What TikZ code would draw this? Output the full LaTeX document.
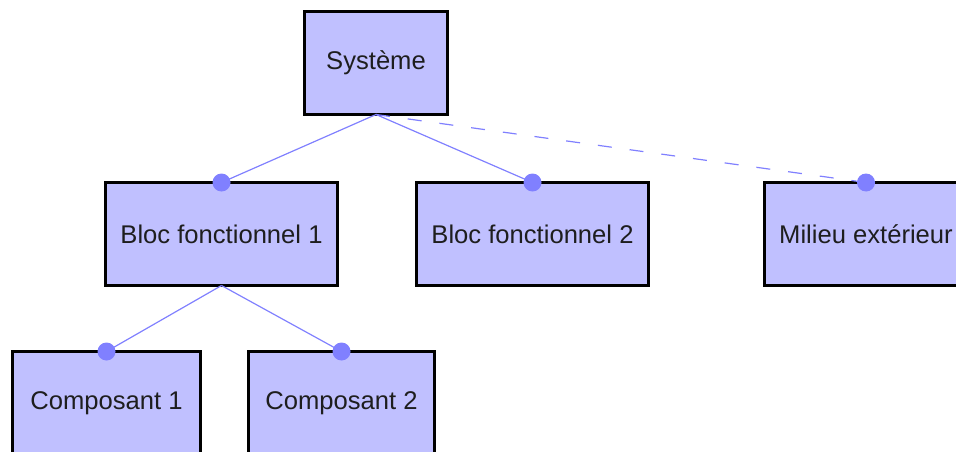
\documentclass[tikz,border=0pt]{standalone}
\usepackage{fontspec}
\setmainfont{Liberation Sans}
\definecolor{boxfill}{RGB}{192,192,255}
\definecolor{linkblue}{RGB}{128,128,255}
\definecolor{labeltext}{RGB}{30,30,30}
\begin{document}
\begin{tikzpicture}[x=1pt,y=-1pt,
  block/.style={draw=black, line width=3pt, fill=boxfill, rectangle,
    minimum height=103pt, inner sep=0pt, outer sep=0pt,
    text=labeltext, font=\fontsize{25.6}{30}\selectfont},
  link/.style={draw=linkblue, line width=1.2pt},
  weaklink/.style={link, dash pattern=on 14pt off 18pt},
  joint/.style={fill=linkblue, draw=none, circle, minimum size=18pt, inner sep=0pt}
]
\useasboundingbox (0,0) rectangle (956,452);
\clip (0,0) rectangle (956,452);

% blocks of the breakdown
\node[block, minimum width=143pt] (sys)  at (376,63)    {Système};
\node[block, minimum width=232pt] (bf1)  at (221.5,234) {Bloc fonctionnel 1};
\node[block, minimum width=232pt] (bf2)  at (532.5,234) {Bloc fonctionnel 2};
\node[block, minimum width=203pt] (env)  at (866,234)   {Milieu extérieur};
\node[block, minimum width=188pt] (cp1)  at (106.5,403) {Composant 1};
\node[block, minimum width=186pt] (cp2)  at (341.5,403) {Composant 2};

% links
\draw[link] (sys.south) -- (bf1.north);
\draw[link] (sys.south) -- (bf2.north);
\draw[weaklink] (sys.south) -- (env.north);
\draw[link] (bf1.south) -- (cp1.north);
\draw[link] (bf1.south) -- (cp2.north);

% attachment dots
\node[joint] (j1) at (bf1.north) {};
\node[joint] (j2) at (bf2.north) {};
\node[joint] (j3) at (env.north) {};
\node[joint] (j4) at (cp1.north) {};
\node[joint] (j5) at (cp2.north) {};
\end{tikzpicture}
\end{document}
